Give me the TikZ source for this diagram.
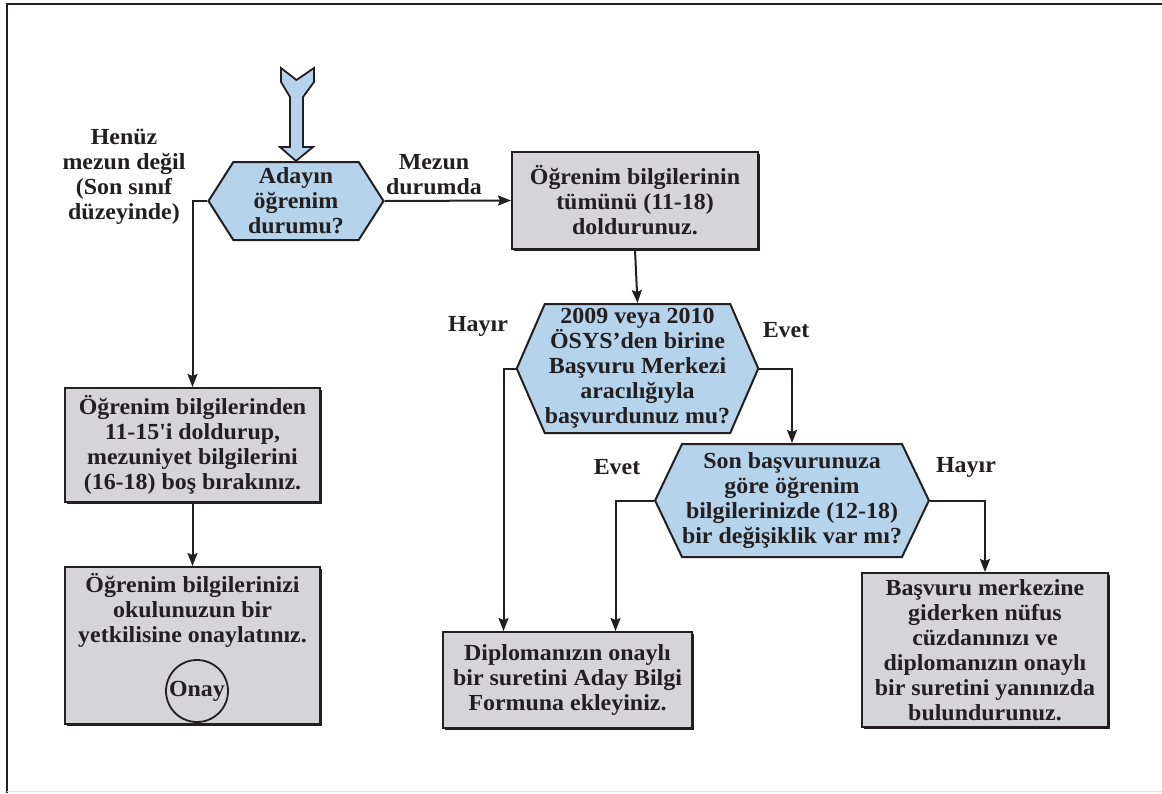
\documentclass[tikz,border=0pt]{standalone}
\usepackage{fontspec}
\setmainfont{Liberation Serif}[FakeStretch=1.04]
\usetikzlibrary{shapes.symbols,arrows.meta,shadows}
\definecolor{hexblue}{RGB}{181,211,234}
\definecolor{boxgray}{RGB}{213,213,215}
\definecolor{lineblack}{RGB}{35,31,32}

\tikzset{
    txt/.style={font=\fontsize{23}{25}\selectfont\bfseries, align=center, text=lineblack},
    hexbox/.style={txt, signal, signal to=west and east, draw=lineblack, line width=2pt,
        fill=hexblue, inner sep=0pt},
    stepbox/.style={txt, rectangle, draw=lineblack, line width=2pt, fill=boxgray, inner sep=0pt,
        drop shadow={shadow xshift=1.6pt, shadow yshift=-1.6pt, fill=lineblack, opacity=1}},
    flow/.style={draw=lineblack, line width=2pt, -{Stealth[length=13pt,width=10pt,inset=2pt]}},
}

\begin{document}
\begin{tikzpicture}[x=1pt, y=-1pt]
    \useasboundingbox (0, 0) rectangle (1162, 793);
    \draw[line width=2.6pt, lineblack] (7, 793) -- (7, 4) -- (1162, 4);
    \draw[line width=1pt, black!12] (7, 791) -- (1162, 791);

    % decisions
    \node[hexbox, minimum width=175pt, minimum height=78pt, signal pointer angle=115]
        (adayDurum) at (296, 201) {Adayın\\öğrenim\\durumu?};
    \node[hexbox, minimum width=241pt, minimum height=129pt, signal pointer angle=133]
        (osysBasvuru) at (637.5, 368.5) {2009 veya 2010\\ÖSYS’den birine\\Başvuru Merkezi\\aracılığıyla\\başvurdunuz mu?};
    \node[hexbox, minimum width=270pt, minimum height=113pt, signal pointer angle=129]
        (degisiklik) at (792, 500.5) {Son başvurunuza\\göre öğrenim\\bilgilerinizde (12-18)\\bir değişiklik var mı?};

    % steps
    \node[stepbox, minimum width=246pt, minimum height=97pt]
        (tumunu) at (635, 200.5) {Öğrenim bilgilerinin\\tümünü (11-18)\\doldurunuz.};
    \node[stepbox, minimum width=255pt, minimum height=114pt]
        (mezunDegil) at (192.5, 445) {Öğrenim bilgilerinden\\11-15\textquotesingle i doldurup,\\mezuniyet bilgilerini\\(16-18) boş bırakınız.};
    \node[stepbox, minimum width=255pt, minimum height=157pt]
        (onaylat) at (192.5, 645.5) {};
    \node[txt, anchor=north] at (192.5, 570) {Öğrenim bilgilerinizi\\okulunuzun bir\\yetkilisine onaylatınız.};
    \node[txt, circle, draw=lineblack, line width=1.8pt, minimum size=62pt, inner sep=0pt]
        (onay) at (197, 691) {Onay};
    \node[stepbox, minimum width=249pt, minimum height=96pt]
        (diploma) at (567.5, 680) {Diplomanızın onaylı\\bir suretini Aday Bilgi\\Formuna ekleyiniz.};
    \node[stepbox, minimum width=246pt, minimum height=154pt]
        (nufus) at (985, 650) {Başvuru merkezine\\giderken nüfus\\cüzdanınızı ve\\diplomanızın onaylı\\bir suretini yanınızda\\bulundurunuz.};

    % labels
    \node[txt] (lblHenuz) at (124, 177) {Henüz\\mezun değil\\(Son sınıf\\düzeyinde)};
    \node[txt] (lblMezun) at (434, 175) {Mezun\\durumda};
    \node[txt] (lblHayir1) at (478, 326) {Hayır};
    \node[txt] (lblEvet1) at (786, 330) {Evet};
    \node[txt] (lblEvet2) at (617, 467) {Evet};
    \node[txt] (lblHayir2) at (966, 467) {Hayır};

    % entry arrow
    \draw[line width=1.8pt, draw=lineblack, fill=hexblue, line join=miter]
        (281, 68) -- (296.5, 80) -- (314, 68) -- (314, 82) -- (303, 97) -- (303, 147)
        -- (313, 147) -- (adayDurum.north) -- (280, 147) -- (290, 147) -- (290, 97)
        -- (281, 82) -- cycle;

    % connectors
    \draw[flow] (adayDurum.east) -- (tumunu.west);
    \draw[flow] (adayDurum.west) -| (mezunDegil.north);
    \draw[flow] (mezunDegil.south) -- (onaylat.north);
    \draw[flow] (tumunu.south) -- (osysBasvuru.north);
    \draw[flow] (osysBasvuru.west) -| ([xshift=-64pt]diploma.north);
    \draw[flow] (osysBasvuru.east) -| (degisiklik.north);
    \draw[flow] (degisiklik.west) -| ([xshift=48pt]diploma.north);
    \draw[flow] (degisiklik.east) -| (nufus.north);
\end{tikzpicture}
\end{document}
